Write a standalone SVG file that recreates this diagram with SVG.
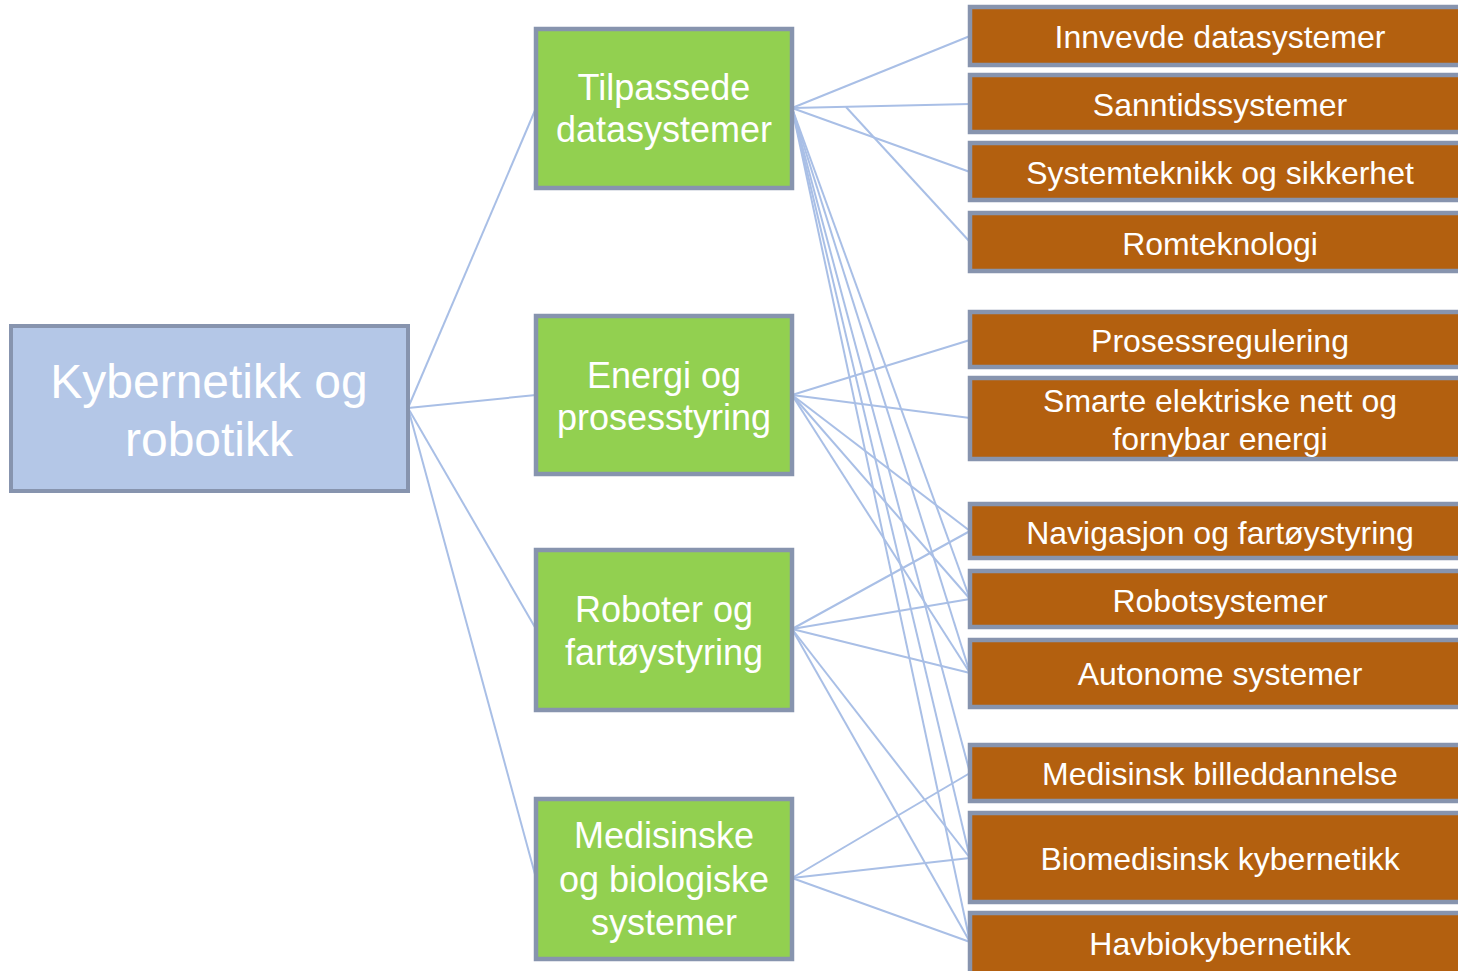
<svg xmlns="http://www.w3.org/2000/svg" width="1458" height="971" viewBox="0 0 1458 971">
<style>
.root{fill:#b4c7e7;stroke:#8794ae;stroke-width:4}
.mid{fill:#92d050;stroke:#8794ae;stroke-width:4.5}
.leaf{fill:#b3600f;stroke:#8794ae;stroke-width:4.5}
text{font-family:"Liberation Sans",Arial,sans-serif;fill:#ffffff;text-anchor:middle}
.t1{font-size:48px}
.t2{font-size:36px}
.t3{font-size:32px}
.c line{stroke:#a9bfe6;stroke-width:2}
</style>
<rect width="1458" height="971" fill="#ffffff"/>
<g class="c" id="connectors">
<line x1="408" y1="408" x2="536" y2="108"/>
<line x1="408" y1="408" x2="536" y2="395"/>
<line x1="408" y1="408" x2="536" y2="629"/>
<line x1="408" y1="408" x2="536" y2="878"/>
<line x1="792" y1="108" x2="970" y2="36"/>
<line x1="792" y1="108" x2="970" y2="104"/>
<line x1="792" y1="108" x2="970" y2="172"/>
<line x1="846" y1="107" x2="970" y2="242"/>
<line x1="792" y1="108" x2="970" y2="599"/>
<line x1="792" y1="108" x2="970" y2="673"/>
<line x1="792" y1="108" x2="970" y2="773"/>
<line x1="792" y1="108" x2="970" y2="858"/>
<line x1="792" y1="108" x2="970" y2="942"/>
<line x1="792" y1="395" x2="970" y2="340"/>
<line x1="792" y1="395" x2="970" y2="418"/>
<line x1="792" y1="395" x2="970" y2="531"/>
<line x1="792" y1="395" x2="970" y2="599"/>
<line x1="792" y1="395" x2="970" y2="673"/>
<line x1="792" y1="629" x2="970" y2="531"/>
<line x1="792" y1="629" x2="970" y2="599"/>
<line x1="792" y1="629" x2="970" y2="673"/>
<line x1="792" y1="629" x2="970" y2="858"/>
<line x1="792" y1="629" x2="970" y2="942"/>
<line x1="792" y1="878" x2="970" y2="773"/>
<line x1="792" y1="878" x2="970" y2="858"/>
<line x1="792" y1="878" x2="970" y2="942"/>
</g>
<g id="root"><rect class="root" x="11" y="326" width="397" height="165"/><text class="t1" x="209" y="398">Kybernetikk og</text><text class="t1" x="209" y="456">robotikk</text></g>
<g id="tilpassede"><rect class="mid" x="536" y="29" width="256" height="159"/><text class="t2" x="664" y="100">Tilpassede</text><text class="t2" x="664" y="142">datasystemer</text></g>
<g id="energi"><rect class="mid" x="536" y="316" width="256" height="158"/><text class="t2" x="664" y="388">Energi og</text><text class="t2" x="664" y="430">prosesstyring</text></g>
<g id="roboter"><rect class="mid" x="536" y="550" width="256" height="160"/><text class="t2" x="664" y="622">Roboter og</text><text class="t2" x="664" y="665">fartøystyring</text></g>
<g id="medisinske"><rect class="mid" x="536" y="799" width="256" height="160"/><text class="t2" x="664" y="848">Medisinske</text><text class="t2" x="664" y="892">og biologiske</text><text class="t2" x="664" y="935">systemer</text></g>
<g id="innvevde"><rect class="leaf" x="970" y="7" width="500" height="58"/><text class="t3" x="1220" y="48">Innvevde datasystemer</text></g>
<g id="sanntid"><rect class="leaf" x="970" y="75" width="500" height="57"/><text class="t3" x="1220" y="116">Sanntidssystemer</text></g>
<g id="systemteknikk"><rect class="leaf" x="970" y="143" width="500" height="57"/><text class="t3" x="1220" y="184">Systemteknikk og sikkerhet</text></g>
<g id="romteknologi"><rect class="leaf" x="970" y="213" width="500" height="58"/><text class="t3" x="1220" y="255">Romteknologi</text></g>
<g id="prosessregulering"><rect class="leaf" x="970" y="312" width="500" height="55"/><text class="t3" x="1220" y="352">Prosessregulering</text></g>
<g id="smarte"><rect class="leaf" x="970" y="378" width="500" height="81"/><text class="t3" x="1220" y="412">Smarte elektriske nett og</text><text class="t3" x="1220" y="450">fornybar energi</text></g>
<g id="navigasjon"><rect class="leaf" x="970" y="504" width="500" height="54"/><text class="t3" x="1220" y="544">Navigasjon og fartøystyring</text></g>
<g id="robotsystemer"><rect class="leaf" x="970" y="571" width="500" height="56"/><text class="t3" x="1220" y="612">Robotsystemer</text></g>
<g id="autonome"><rect class="leaf" x="970" y="640" width="500" height="67"/><text class="t3" x="1220" y="685">Autonome systemer</text></g>
<g id="billeddannelse"><rect class="leaf" x="970" y="745" width="500" height="56"/><text class="t3" x="1220" y="785">Medisinsk billeddannelse</text></g>
<g id="biomedisinsk"><rect class="leaf" x="970" y="813" width="500" height="89"/><text class="t3" x="1220" y="870">Biomedisinsk kybernetikk</text></g>
<g id="havbio"><rect class="leaf" x="970" y="913" width="500" height="62"/><text class="t3" x="1220" y="955">Havbiokybernetikk</text></g>
</svg>
